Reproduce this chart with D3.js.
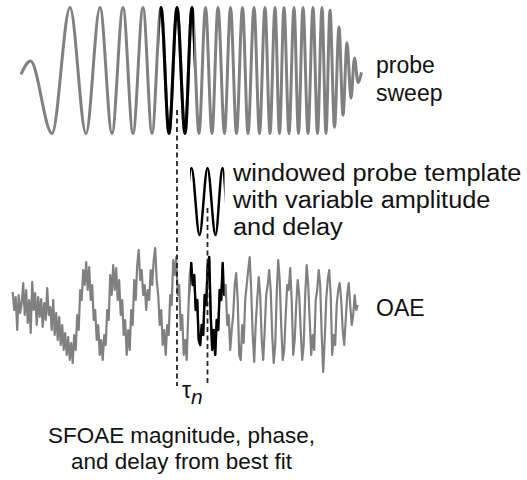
<!DOCTYPE html>
<html>
<head>
<meta charset="utf-8">
<script src="https://cdn.jsdelivr.net/npm/d3@7"></script>
<style>
  body { margin: 0; background: #fff; }
  text { font-family: "Liberation Sans", Arial, sans-serif; fill: #111; }
</style>
</head>
<body>
<svg id="fig" width="527" height="480"></svg>
<script>
// Probe sweep, given by its successive extrema (time in ms, normalised pressure)
const sweepT = [0.9, 1.85, 4.0, 5.8, 7.4, 8.8, 10.0, 11.1, 12.1, 13.1, 14.0, 14.9, 15.7, 16.5,
  17.3, 18.0, 18.7, 19.35, 20.0, 20.6, 21.25, 21.85, 22.45, 23.05, 23.6, 24.2, 24.75, 25.3,
  25.8, 26.3, 26.75, 27.2, 27.7, 28.2, 28.65, 29.1, 29.6, 30.1, 30.55, 31.0, 31.4, 31.8,
  32.25, 32.7, 33.1, 33.5, 33.9, 34.25, 34.6, 34.95];
const sweepV = [-0.06, 0.15, -1, 1, -1, 1, -1, 1, -1, 1, -1, 1, -1, 1,
  -1, 1, -1, 1, -1, 1, -1, 1, -1, 1, -1, 1, -1, 1,
  -1, 1, -1, 1, -1, 1, -1, 1, -1, 1, -1, 1, -1, 0.96,
  -0.9, 0.69, -0.71, 0.44, -0.44, 0.2, -0.19, -0.03];

// Analysis window on the probe (ms) and the fitted delay tau_n (ms)
const probeWindow = [14.75, 18.2];
const tauN = 3.05;
const tauRef = 16.5;

// Recorded ear-canal signal, sampled every oaeStep ms from oaeStart
const oaeStart = 0.07;
const oaeStep = 0.15;
const oaeV = [13, -5, 8, -25, 10, -8, 2, 22, -10, 15, -18, 5, -28, 23, -5, 12, -20, 8, -12, 6, -22, 2, -15,
  17, -10, -2, -25, 5, -30, -8, -35, -12, -40, -20, -45, -28, -50, -32,
  -55, -38, -58, -30, -45, -10, -25, 15, 5, 35, 20, 43, 15, 38, 5, 20, -15, -5, -35, -20, -50, -35,
  -55, -30, -40, -5, -15, 30, 10, 40, 15, 37, 5, 25, -10, 5, -30, -15, -50, -25, -45, -5, -20, 25,
  5, 40, 55, 25, 35, 10, 20, -5, 15, 5, 35, 20, 45, 57, 25, 10, -20, -5, -40, -25, -50, -20, -30, 10,
  0, 45, 30, 48, 10, 20, -25, -10, -50, -35, -55, -10,
  30, 42, 20, 30, -5, 5, -35, -40, -20, -30, 10, 0, 40, 48, -10, -45, -25, -50, -15, -25, 15, 5, 42,
  10, 20, -20, -10, -45, -25, -10, 20, 32, 5, -50, -55, -20, -38, 5, 20, 35, 48, 15, -30, -57, -20,
  5, 28, 10, -35, -55, -25, 10, 20, 35, 15, -30, -58, -40, 10, 45, 25, -20, -55, -45, -10, 20, 15,
  37, 5, -50, -35, 0, 25, 10, -25, -55, -40, 10, 40, 20, -15, -50, -30, -45, 5, 15, 35, 20, -30,
  -67, -35, 5, 25, 35, 10, -50, -30, -40, 0, 15, 22, 5, -25, -40, -15, 10, 22, 0, -20, -10, 10, -5, 0];

// Label lines
const sweepLabel = ["probe", "sweep"];
const templLabel = ["windowed probe template", "with variable amplitude", "and delay"];
const oaeLabel = ["OAE"];
const resultLabel = ["SFOAE magnitude, phase,", "and delay from best fit"];

const GRAY = "#808080";
const svg = d3.select("#fig");

// Shared time axis
const x = d3.scaleLinear().domain([0, 35]).range([12, 362]);
// Separate vertical scales for each trace row
const ySweep = d3.scaleLinear().domain([-1, 1]).range([133.5, 7.5]);
const yTempl = d3.scaleLinear().domain([-1, 1]).range([235, 168]);
const yOae = d3.scaleLinear().domain([-60, 60]).range([365, 245]);

const sweep = sweepT.map((t, i) => ({ t, v: sweepV[i] }));
const oae = oaeV.map((v, i) => ({ t: oaeStart + i * oaeStep, v }));

const sweepLine = d3.line().x(d => x(d.t)).y(d => ySweep(d.v)).curve(d3.curveMonotoneX);
const templLine = d3.line().x(d => x(d.t + tauN)).y(d => yTempl(d.v)).curve(d3.curveMonotoneX);
const oaeLine = d3.line().x(d => x(d.t)).y(d => yOae(d.v));

const defs = svg.append("defs");
function clipRect(id, t0, t1) {
  defs.append("clipPath").attr("id", id)
    .append("rect")
    .attr("x", x(t0)).attr("width", x(t1) - x(t0))
    .attr("y", 0).attr("height", 480);
}
clipRect("probeWin", probeWindow[0], probeWindow[1]);
clipRect("delayWin", probeWindow[0] + tauN, probeWindow[1] + tauN);

// Probe sweep with the analysed window in black
svg.append("path").attr("d", sweepLine(sweep))
  .attr("fill", "none").attr("stroke", GRAY).attr("stroke-width", 3);
svg.append("path").attr("d", sweepLine(sweep))
  .attr("clip-path", "url(#probeWin)")
  .attr("fill", "none").attr("stroke", "#000").attr("stroke-width", 3);

// Windowed, delayed template
svg.append("path").attr("d", templLine(sweep))
  .attr("clip-path", "url(#delayWin)")
  .attr("fill", "none").attr("stroke", "#000").attr("stroke-width", 2.5);

// Recorded OAE with the matching segment in black
svg.append("path").attr("d", oaeLine(oae))
  .attr("fill", "none").attr("stroke", GRAY).attr("stroke-width", 2.2).attr("stroke-linejoin", "round");
svg.append("path").attr("d", oaeLine(oae))
  .attr("clip-path", "url(#delayWin)")
  .attr("fill", "none").attr("stroke", "#000").attr("stroke-width", 2.4).attr("stroke-linejoin", "round");

// Dashed markers for the reference time and the delayed time
const markers = [
  { t: tauRef, y0: 110, y1: 386 },
  { t: tauRef + tauN, y0: 208, y1: 386 }
];
svg.selectAll("line.marker").data(markers).join("line")
  .attr("class", "marker")
  .attr("x1", d => x(d.t)).attr("x2", d => x(d.t))
  .attr("y1", d => d.y0).attr("y2", d => d.y1)
  .attr("stroke", "#222").attr("stroke-width", 1.8).attr("stroke-dasharray", "5,3.5");

// Labels; `stretch` widens the glyphs horizontally without changing line height
function block(lines, xPos, y0, dy, size, stretch, anchor) {
  const texts = svg.append("g").selectAll("text").data(lines).join("text")
    .attr("x", xPos).attr("y", (d, i) => y0 + i * dy)
    .attr("text-anchor", anchor || "start")
    .attr("font-size", size)
    .text(d => d);
  if (stretch !== 1) {
    texts.each(function () {
      const w = this.getComputedTextLength();
      d3.select(this).attr("textLength", w * stretch).attr("lengthAdjust", "spacingAndGlyphs");
    });
  }
}
block(sweepLabel, 376, 73, 28, 23, 1);
block(templLabel, 233, 181, 27, 23, 1.1);
block(oaeLabel, 376, 316, 0, 23, 1);
block(resultLabel, 181.5, 443, 26, 22, 1.02, "middle");

const tau = svg.append("text").attr("x", 182).attr("y", 398).attr("font-size", 23);
tau.append("tspan").text("τ");
tau.append("tspan").attr("dy", 6).attr("font-style", "italic").attr("font-size", 21).text("n");
</script>
</body>
</html>
